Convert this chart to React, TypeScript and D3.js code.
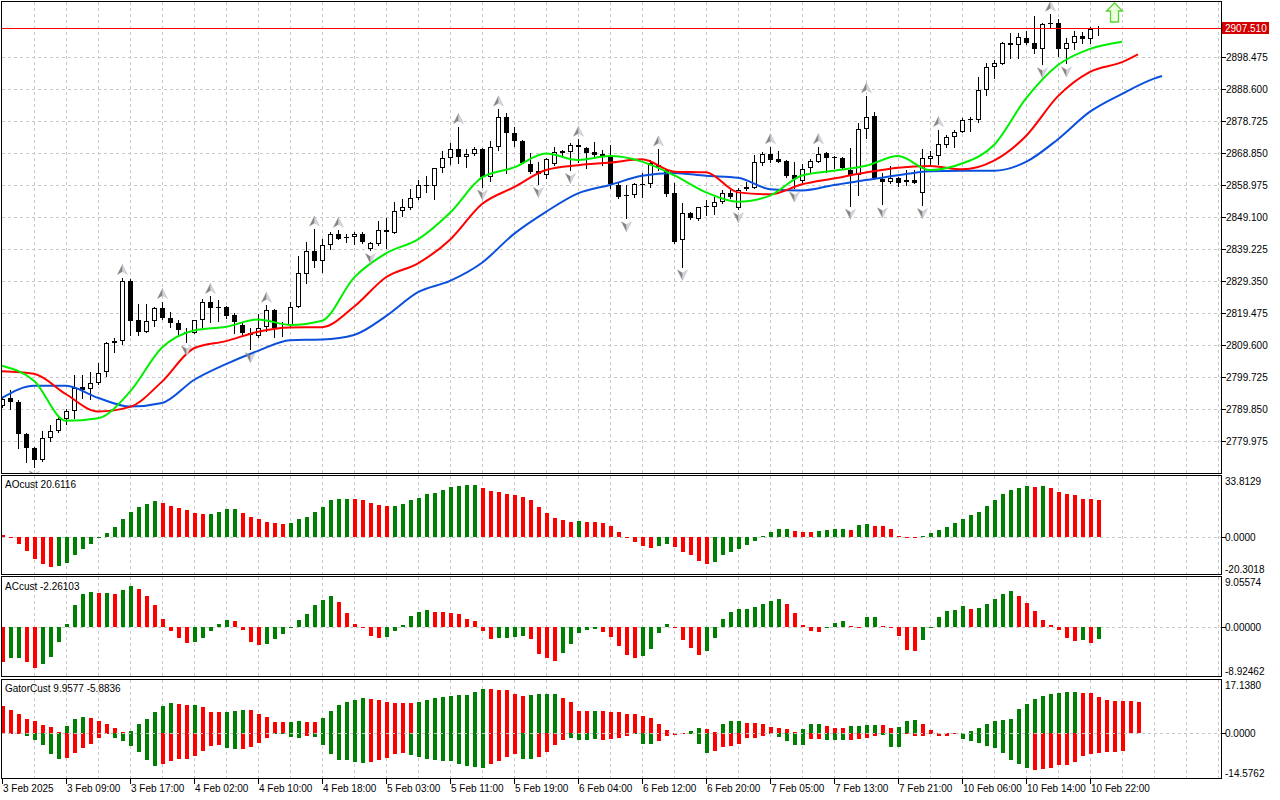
import React, { useEffect } from 'react';
import * as d3 from 'd3';

// ---------------- DATA ----------------
const opens = [2790.9,2793.1,2792.1,2782.1,2777.8,2774.1,2780.9,2783.0,2786.8,2789.2,
2796.5,2796.0,2797.8,2801.2,2810.1,2810.8,2829.4,2817.2,2813.7,2816.9,
2820.9,2818.0,2816.4,2813.5,2813.3,2817.2,2823.0,2821.2,2821.2,2818.8,
2815.8,2813.4,2812.5,2815.2,2820.4,2815.1,2815.8,2821.4,2831.5,2838.6,
2835.4,2840.4,2843.7,2842.9,2842.8,2844.0,2839.3,2840.9,2845.0,2844.3,
2850.8,2852.0,2854.9,2858.8,2858.8,2864.1,2867.2,2870.0,2867.5,2868.4,
2870.0,2861.3,2870.6,2879.9,2874.9,2872.7,2865.5,2863.3,2862.1,2865.5,
2869.5,2869.3,2871.3,2870.3,2869.3,2868.5,2867.7,2859.0,2855.9,2855.9,
2859.1,2859.2,2865.1,2863.6,2856.4,2842.0,2850.4,2848.5,2852.2,2852.3,
2853.6,2856.4,2851.8,2857.6,2858.2,2865.9,2868.4,2866.9,2866.4,2862.1,
2860.2,2864.1,2866.2,2868.7,2867.7,2867.2,2863.5,2862.1,2876.3,2880.3,
2860.8,2859.8,2861.0,2859.8,2860.5,2856.6,2867.1,2867.9,2871.3,2873.7,
2875.4,2879.2,2879.0,2888.3,2895.3,2896.2,2902.9,2902.2,2904.2,2902.7,
2900.8,2909.1,2908.9,2900.8,2902.9,2905.0,2903.9,2907.1];
const highs = [2793.7,2795.7,2792.5,2782.4,2778.2,2783.1,2784.9,2788.0,2789.8,2800.3,
2800.3,2801.2,2804.0,2810.4,2811.7,2830.4,2830.0,2822.1,2822.1,2821.4,
2823.0,2819.9,2817.3,2814.7,2817.4,2823.9,2824.6,2823.6,2821.7,2819.4,
2816.3,2814.7,2819.2,2821.9,2820.6,2816.6,2823.0,2837.1,2841.3,2845.4,
2842.4,2844.4,2845.0,2843.7,2844.6,2844.6,2841.5,2847.9,2848.9,2853.7,
2854.7,2857.8,2860.5,2861.6,2864.1,2869.5,2872.0,2877.0,2870.0,2870.6,
2870.3,2872.7,2882.4,2881.1,2876.8,2872.9,2868.7,2866.2,2867.2,2870.8,
2869.8,2871.8,2873.1,2870.8,2872.3,2869.8,2871.3,2859.5,2859.0,2859.5,
2862.6,2866.7,2870.1,2863.8,2859.5,2853.3,2850.7,2852.3,2854.3,2855.4,
2857.4,2857.4,2857.9,2860.0,2868.2,2869.3,2870.8,2869.5,2866.7,2866.0,
2865.4,2867.0,2870.8,2869.1,2868.0,2867.7,2870.5,2878.0,2886.5,2881.4,
2862.6,2864.9,2861.5,2863.6,2863.6,2870.1,2869.6,2876.1,2874.4,2875.9,
2879.5,2880.1,2892.2,2896.5,2897.5,2903.2,2906.0,2905.8,2906.6,2911.2,
2909.1,2911.7,2910.1,2904.2,2906.6,2906.3,2907.6,2908.0];
const lows = [2790.6,2790.0,2777.9,2773.4,2771.8,2773.9,2780.0,2782.6,2785.1,2787.0,
2793.1,2792.9,2797.5,2800.1,2807.3,2809.8,2812.7,2812.7,2813.5,2815.6,
2817.6,2815.3,2812.7,2810.4,2813.2,2815.3,2816.8,2817.0,2818.0,2813.2,
2812.7,2808.3,2812.2,2814.0,2812.2,2812.4,2815.2,2821.2,2828.8,2833.6,
2832.2,2839.1,2842.2,2841.5,2840.8,2841.2,2838.9,2840.5,2839.4,2844.2,
2849.5,2851.5,2854.8,2856.9,2854.6,2863.1,2865.5,2865.7,2864.4,2868.2,
2858.5,2860.3,2869.8,2862.8,2871.0,2865.7,2862.8,2859.3,2861.0,2865.1,
2867.7,2863.6,2866.2,2864.1,2867.7,2865.1,2857.9,2855.1,2848.7,2855.4,
2855.4,2858.5,2863.6,2855.6,2841.0,2833.8,2848.5,2848.2,2849.7,2849.9,
2853.3,2854.9,2851.5,2857.4,2857.9,2865.1,2866.0,2866.0,2861.5,2857.9,
2860.0,2863.1,2866.0,2863.1,2864.1,2864.1,2852.6,2855.9,2873.4,2860.8,
2853.0,2859.5,2858.7,2859.0,2859.5,2852.8,2865.1,2865.4,2870.8,2870.8,
2875.4,2875.7,2878.5,2886.7,2891.9,2896.2,2898.1,2898.1,2902.5,2899.6,
2896.2,2907.3,2898.8,2896.5,2900.8,2902.9,2902.7,2905.3];
const closes = [2792.9,2791.9,2782.0,2777.7,2774.1,2780.9,2783.0,2786.8,2789.1,2796.4,
2795.7,2797.8,2801.0,2810.1,2810.8,2829.4,2817.1,2813.7,2816.9,2820.9,
2818.0,2816.5,2814.2,2813.3,2817.2,2823.0,2820.9,2820.9,2818.6,2816.8,
2813.2,2812.6,2814.7,2820.4,2815.0,2815.2,2821.4,2831.7,2838.7,2835.6,
2840.4,2843.7,2842.4,2842.6,2844.0,2841.5,2841.0,2845.0,2844.4,2850.8,
2852.1,2855.0,2858.9,2859.0,2864.1,2867.2,2870.0,2867.5,2868.4,2870.0,
2861.3,2870.6,2879.9,2874.9,2872.7,2865.9,2863.0,2862.3,2866.9,2869.1,
2869.0,2871.3,2870.6,2869.0,2868.1,2868.0,2859.3,2855.4,2855.6,2859.2,
2859.3,2865.9,2864.4,2856.2,2841.5,2850.2,2848.7,2852.1,2852.5,2853.6,
2856.4,2855.4,2857.4,2858.3,2866.0,2868.5,2866.8,2866.2,2861.9,2860.8,
2863.9,2866.4,2868.6,2867.4,2867.4,2864.3,2862.1,2876.3,2880.1,2861.0,
2859.8,2861.0,2859.7,2860.5,2859.7,2867.2,2867.9,2871.6,2873.9,2875.4,
2879.0,2879.4,2888.3,2895.3,2896.5,2902.9,2902.2,2904.5,2902.7,2900.8,
2908.6,2908.6,2900.8,2902.9,2905.0,2903.9,2907.0,2907.51];

// Alligator lines, sampled every 4 bars (last point at line end)
const lipsIdx = [0,4,8,12,16,20,24,28,32,36,40,44,48,52,56,60,64,68,72,76,80,84,88,92,96,100,104,108,112,116,120,124,128,132,136,140];
const lipsVals = [2803.2,2798.6,2786.2,2787.0,2795.2,2808.8,2814.1,2815.2,2817.5,2815.8,2817.1,2830.4,2837.9,2842.2,2850.4,2861.3,2864.4,2868.7,2866.7,2867.9,2866.2,2862.0,2856.7,2853.8,2855.7,2861.9,2863.4,2864.9,2867.9,2863.6,2865.6,2871.3,2885.7,2896.0,2901.0,2903.2];
const teethIdx = [0,4,8,12,16,20,24,28,32,36,40,44,48,52,56,60,64,68,72,76,80,84,88,92,96,100,104,108,112,116,120,124,128,132,136,140,142];
const teethVals = [2801.5,2800.7,2794.4,2789.1,2790.5,2798.3,2808.6,2810.8,2813.7,2815.0,2815.1,2821.4,2830.5,2834.8,2842.1,2853.1,2858.3,2863.6,2865.1,2865.9,2866.9,2863.1,2862.9,2856.7,2856.1,2859.2,2861.0,2862.8,2864.3,2864.8,2863.8,2866.5,2874.1,2886.4,2893.9,2896.9,2899.3];
const jawIdx = [0,4,8,12,16,20,24,28,32,36,40,44,48,52,56,60,64,68,72,76,80,84,88,92,96,100,104,108,112,116,120,124,128,132,136,140,144,145];
const jawVals = [2793.3,2797.0,2797.0,2793.3,2790.6,2791.7,2798.8,2803.7,2807.8,2811.1,2811.3,2812.7,2818.5,2825.9,2829.4,2835.0,2843.9,2850.7,2856.4,2859.0,2861.8,2862.7,2861.8,2861.2,2857.7,2857.3,2859.0,2860.5,2862.0,2863.2,2863.4,2863.4,2866.1,2873.1,2881.6,2887.1,2891.8,2892.6];

const fractalUpIdx = [15,20,26,33,39,42,57,62,72,82,96,102,108,117,131];
const fractalDownIdx = [4,23,31,46,60,67,71,78,85,92,99,106,110,115,130,133];
const signalIdx = 139;
const signalPrice = 2912.2;
const currentPrice = 2907.51;

const priceTicks = ['2779.975','2789.850','2799.725','2809.600','2819.475','2829.350','2839.225','2849.100','2858.975','2868.850','2878.725','2888.600','2898.475'];

const timeIdx = [0,8,16,24,32,40,48,56,64,72,80,88,96,104,112,120,128,136];
const timeText = ['3 Feb 2025','3 Feb 09:00','3 Feb 17:00','4 Feb 02:00','4 Feb 10:00','4 Feb 18:00','5 Feb 03:00','5 Feb 11:00','5 Feb 19:00','6 Feb 04:00','6 Feb 12:00','6 Feb 20:00','7 Feb 05:00','7 Feb 13:00','7 Feb 21:00','10 Feb 06:00','10 Feb 14:00','10 Feb 22:00'];

const aoVals = [1.47,-0.29,-3.43,-7.25,-11.66,-14.41,-15.97,-15.88,-13.82,-9.80,
-6.17,-3.43,-0.29,2.55,5.78,9.80,14.01,16.76,18.42,19.70,
18.91,17.25,15.88,14.70,13.43,12.94,13.03,14.01,15.29,15.48,
13.43,11.27,9.80,8.53,8.04,7.45,8.04,9.80,11.27,14.01,
16.76,20.19,21.07,21.17,20.87,20.58,18.72,17.84,17.25,17.35,
18.42,20.58,21.46,23.81,24.40,26.07,27.34,28.22,28.71,28.81,
27.15,25.48,24.89,23.81,23.32,22.25,20.58,16.76,13.43,10.78,
9.31,8.53,9.11,8.53,8.43,7.64,6.37,3.14,-0.29,-2.74,
-4.90,-5.98,-4.90,-3.82,-5.49,-8.23,-9.80,-13.13,-14.70,-13.62,
-9.80,-8.23,-6.57,-4.41,-2.16,0.59,3.14,4.70,4.80,3.63,
3.14,3.04,3.63,4.21,4.70,4.80,4.21,6.96,7.45,6.37,
6.27,4.70,0.88,0.20,-0.20,0.88,2.55,4.21,5.78,8.04,
10.19,12.35,14.01,17.25,20.58,23.81,26.07,27.15,28.22,27.64,
27.83,27.15,24.89,23.62,23.32,21.07,20.97,20.61];
const aoColors = 'rrrrrrrggg'+'gggggggggg'+'rrrrrrgggg'+'rrrrrrgggg'+'ggggrrrrrg'+'gggggggggg'+'rrrrrrrrrr'+'rrgrrrrrrr'+'rrggrrrrrg'+'gggggggggr'+'rrggggrggr'+'rrrrrggggg'+'gggggggggr'+'grrrrrrr';

const acVals = [-6.37,-5.68,-5.68,-6.37,-7.35,-6.76,-5.49,-2.65,0.54,3.92,
5.98,6.27,6.08,6.13,5.98,6.66,7.35,6.86,5.59,3.92,
1.47,-0.78,-2.06,-2.84,-2.65,-1.96,-0.78,0.54,1.27,1.08,
-0.59,-2.65,-3.33,-3.04,-2.25,-1.37,-0.10,1.27,2.35,3.92,
4.90,5.59,4.51,2.55,0.54,-0.29,-1.57,-1.96,-1.91,-0.83,
0.29,1.96,2.70,3.04,2.70,2.65,2.55,2.35,1.47,1.08,
-0.78,-2.25,-2.06,-2.01,-1.76,-1.57,-2.25,-4.80,-5.68,-6.08,
-4.70,-3.14,-1.18,-0.49,-0.44,-0.98,-1.76,-3.53,-5.00,-5.68,
-5.29,-3.92,-1.18,0.54,-0.29,-2.45,-3.72,-5.00,-4.41,-1.96,
1.47,2.70,3.14,3.23,3.63,4.12,4.70,5.00,4.12,2.55,
0.39,-0.69,-0.88,0.05,0.69,1.08,0.20,-0.10,1.76,1.81,
0.20,-0.20,-1.62,-4.21,-4.41,-2.45,-0.29,1.76,2.84,3.04,
3.77,3.23,3.43,4.12,5.00,5.93,6.47,5.59,4.31,2.84,
1.18,0.39,-0.54,-2.06,-2.55,-2.45,-2.84,-2.26];
const acColors = 'rggrrggggg'+'ggrgrggrrr'+'rrrrgggggr'+'rrrggggggg'+'ggrrrrrrgg'+'ggggrrrrrr'+'rrggggrrrr'+'gggggrrrrr'+'ggggrrrrgg'+'ggggggggrr'+'rrrgggrrgg'+'rrrrrggggg'+'grgggggrrr'+'rrrrrgrg';

const gatorUp = [8.54,7.39,5.98,4.49,3.87,2.46,1.94,0.35,2.24,4.49,
5.10,4.84,3.87,2.90,1.58,0.35,0.62,2.90,4.49,6.78,
8.62,9.59,9.33,8.98,9.02,8.36,6.78,6.69,6.78,7.04,
7.39,7.35,6.07,5.02,3.52,3.48,3.52,3.87,3.52,3.48,
4.84,7.04,8.98,9.94,10.56,11.26,10.91,10.56,9.94,9.77,
9.59,9.55,9.94,10.47,11.26,11.53,11.88,12.06,12.10,13.20,
14.08,14.04,13.90,13.73,12.50,11.88,12.23,12.50,12.54,12.58,
11.35,9.94,7.04,7.00,7.08,7.00,6.78,6.73,6.07,6.03,
5.46,4.84,2.82,1.06,0.09,0.04,0.62,1.58,1.32,0.35,
2.82,3.87,3.92,3.17,3.12,2.90,1.94,1.58,1.32,0.35,
1.32,2.82,2.90,2.29,1.58,1.54,2.29,2.33,2.64,2.68,
2.64,1.58,1.94,3.87,4.31,2.90,1.06,0.04,0.035,0.03,
0.09,0.62,1.58,2.90,3.87,4.31,4.49,7.74,9.33,10.91,
11.88,12.50,12.85,13.20,13.24,12.85,12.80,11.53,10.56,10.30,
10.25,10.21,9.96];
const gatorUpColors = 'rrrrrrrrgg'+'grrrrrgggg'+'ggrrgrrrgg'+'grrrrrggrr'+'ggggggrrrr'+'rrgggggggg'+'grrrrrgggg'+'rrrrgrrrrr'+'rrrrrrggrr'+'gggrrrrrrr'+'gggrrrgggg'+'rrgggrrrrr'+'gggggggggg'+'gggggrrrrr'+'rrr';
const gatorDown = [-0.44,-0.26,-0.18,-0.97,-2.11,-3.78,-6.60,-8.27,-7.92,-6.34,
-4.66,-3.43,-1.50,-0.44,-1.50,-2.46,-4.05,-5.98,-8.54,-10.47,
-9.86,-8.89,-8.27,-8.23,-7.39,-5.63,-4.05,-3.78,-4.66,-5.02,
-4.97,-4.40,-3.08,-1.50,-0.18,-0.26,-1.32,-1.50,-0.88,-1.14,
-3.78,-6.60,-8.54,-8.58,-9.24,-9.50,-9.24,-8.54,-7.92,-6.60,
-6.56,-6.95,-7.57,-8.27,-8.54,-8.89,-8.93,-9.86,-10.47,-10.82,
-11.09,-9.86,-8.89,-7.74,-6.60,-8.27,-8.32,-7.57,-5.98,-3.87,
-2.11,-1.58,-2.11,-2.11,-1.85,-2.11,-1.94,-1.50,-0.88,-0.22,
-3.43,-3.43,-2.64,-0.88,-0.53,-0.18,-0.35,-3.43,-6.34,-5.63,
-4.40,-4.05,-3.43,-1.58,-1.50,-1.06,-0.44,-1.32,-2.64,-3.78,
-3.78,-1.85,-1.80,-2.11,-2.38,-2.38,-2.11,-1.94,-1.58,-1.06,
-0.53,-4.40,-4.40,-0.22,-0.88,-0.88,-0.44,-0.88,-0.88,-0.35,
-1.85,-2.64,-3.08,-4.05,-4.66,-6.34,-8.54,-9.86,-11.09,-11.79,
-11.44,-11.09,-10.30,-10.12,-9.24,-7.30,-6.60,-6.34,-6.07,-6.07,-5.88];
const gatorDownColors = 'rrrgggggrr'+'rrrrgggggg'+'rrrrrrrrgg'+'rrrrggggrg'+'ggggggrrrr'+'rggggggggg'+'grrrrggrrr'+'rggggrrrrg'+'ggrrrrgggr'+'rrrrrrgggg'+'grrgggrrrr'+'gggrrrrrrr'+'gggggggggr'+'rrrrrrrrrrr';

const aoLabels = ['33.8129','0.0000','-20.3018'];
const acLabels = ['9.05574','0.00000','-8.92462'];
const gatorLabels = ['17.1380','0.0000','-14.5762'];
const aoTitle = 'AOcust 20.6116';
const acTitle = 'ACcust -2.26103';
const gatorTitle = 'GatorCust 9.9577 -5.8836';

// ---------------- LAYOUT ----------------
const AXIS_X = 1221.5;
const LEFT_X = 1.5;
const GREEN = '#008000';
const RED = '#ff0000';
const GRID = '#c8c8c8';
const FONT = '"Liberation Sans", Arial, sans-serif';

const panes = {
  main: { top: 1.5, bottom: 473.5 },
  ao: { top: 475.5, bottom: 574.5 },
  ac: { top: 576.5, bottom: 676.5 },
  gator: { top: 679.5, bottom: 778.5 },
};

type Pane = { top: number; bottom: number };

export default function App() {
  useEffect(() => {
    document.body.style.margin = '0';
  }, []);

  const x = d3.scaleLinear().domain([0, 137]).range([2, 2 + 8 * 137]);
  const px = (i: number) => Math.round(x(i));
  const yMain = d3.scaleLinear().domain([+priceTicks[0], +priceTicks[priceTicks.length - 1]]).range([441, 57]);
  const yAO = d3.scaleLinear().domain([+aoLabels[2], +aoLabels[0]]).range([panes.ao.bottom, panes.ao.top]);
  const yAC = d3.scaleLinear().domain([+acLabels[2], +acLabels[0]]).range([panes.ac.bottom, panes.ac.top]);
  const yG = d3.scaleLinear().domain([+gatorLabels[2], +gatorLabels[0]]).range([panes.gator.bottom, panes.gator.top]);

  const gridIdx = d3.range(4, 153, 4);

  const mkLine = (idx: number[]) =>
    d3.line<number>().x((_, k) => x(idx[k])).y((d) => yMain(d)).curve(d3.curveMonotoneX);

  const bar = (key: string, i: number, v: number, ys: d3.ScaleLinear<number, number>, c: string) => {
    const cx = px(i);
    const y0 = Math.round(ys(0));
    const y1 = Math.round(ys(v));
    const h = Math.max(1, Math.abs(y1 - y0));
    return <rect key={key} x={cx - 1} y={Math.min(y0, y1)} width={4} height={h} fill={c === 'g' ? GREEN : RED} />;
  };

  const vGrid = (p: Pane, k: string) =>
    gridIdx.map((i) => (
      <line key={k + i} x1={px(i) + 0.5} x2={px(i) + 0.5} y1={p.top} y2={p.bottom} stroke={GRID} strokeDasharray="3,3" />
    ));

  const zeroGrid = (ys: d3.ScaleLinear<number, number>, k: string) => {
    const yz = Math.round(ys(0)) + 0.5;
    return <line key={k} x1={LEFT_X} x2={AXIS_X} y1={yz} y2={yz} stroke={GRID} strokeDasharray="3,3" />;
  };

  const paneAxis = (labels: string[], ys: d3.ScaleLinear<number, number>, p: Pane, k: string) => {
    const yz = Math.round(ys(0)) + 0.5;
    return (
      <g key={k}>
        <text x={1225} y={p.top + 9.5} fontSize={10}>{labels[0]}</text>
        <text x={1225} y={yz + 3.5} fontSize={10}>{labels[1]}</text>
        <text x={1225} y={p.bottom - 2} fontSize={10}>{labels[2]}</text>
        <line x1={AXIS_X} x2={AXIS_X + 4} y1={yz} y2={yz} stroke="#000" />
      </g>
    );
  };

  const yCur = Math.round(yMain(currentPrice)) + 0.5;

  return (
    <svg width={1280} height={800} style={{ display: 'block', background: '#fff', fontFamily: FONT }} shapeRendering="crispEdges">
      <defs>
        <clipPath id="clipMain"><rect x={LEFT_X} y={panes.main.top} width={AXIS_X - LEFT_X} height={panes.main.bottom - panes.main.top} /></clipPath>
        <clipPath id="clipAO"><rect x={LEFT_X} y={panes.ao.top} width={AXIS_X - LEFT_X} height={panes.ao.bottom - panes.ao.top} /></clipPath>
        <clipPath id="clipAC"><rect x={LEFT_X} y={panes.ac.top} width={AXIS_X - LEFT_X} height={panes.ac.bottom - panes.ac.top} /></clipPath>
        <clipPath id="clipG"><rect x={LEFT_X} y={panes.gator.top} width={AXIS_X - LEFT_X} height={panes.gator.bottom - panes.gator.top} /></clipPath>
      </defs>
      <rect x={0} y={0} width={1280} height={800} fill="#fff" />

      {/* ---------- MAIN PANE ---------- */}
      <g clipPath="url(#clipMain)">
        {vGrid(panes.main, 'mg')}
        {priceTicks.map((t) => {
          const yy = Math.round(yMain(+t)) + 0.5;
          return <line key={'hg' + t} x1={LEFT_X} x2={AXIS_X} y1={yy} y2={yy} stroke={GRID} strokeDasharray="3,3" />;
        })}
        {opens.map((o, i) => {
          const cx = px(i);
          const c = closes[i];
          const up = c >= o;
          const yTop = Math.round(yMain(Math.max(o, c)));
          const yBot = Math.round(yMain(Math.min(o, c)));
          return (
            <g key={'c' + i}>
              <line x1={cx + 0.5} x2={cx + 0.5} y1={Math.round(yMain(highs[i]))} y2={Math.round(yMain(lows[i])) + 1} stroke="#000" />
              {yBot - yTop <= 1 ? (
                <line x1={cx - 2} x2={cx + 3} y1={yTop + 0.5} y2={yTop + 0.5} stroke="#000" />
              ) : (
                <rect x={cx - 1.5} y={yTop + 0.5} width={4} height={yBot - yTop - 1} fill={up ? '#fff' : '#000'} stroke="#000" />
              )}
            </g>
          );
        })}
        <g shapeRendering="auto" fill="none" strokeWidth={2} strokeLinejoin="round">
          <path d={mkLine(jawIdx)(jawVals) || ''} stroke="#0a50dc" />
          <path d={mkLine(teethIdx)(teethVals) || ''} stroke="#ff0000" />
          <path d={mkLine(lipsIdx)(lipsVals) || ''} stroke="#00ee00" />
        </g>
        <g shapeRendering="auto">
          {fractalUpIdx.map((i) => {
            const cx = px(i) + 0.5;
            const cy = yMain(highs[i]) - 8;
            return (
              <g key={'fu' + i} transform={`translate(${cx},${cy})`}>
                <path d="M0,-5 L0,2 L-5,5 Z" fill="#8a827c" stroke="#8a827c" strokeWidth={0.4} />
                <path d="M0,-5 L5,5 L0,2 Z" fill="#d4d4e0" stroke="#b4b4c8" strokeWidth={0.4} />
              </g>
            );
          })}
          {fractalDownIdx.map((i) => {
            const cx = px(i) + 0.5;
            const cy = yMain(lows[i]) + 8.5;
            return (
              <g key={'fd' + i} transform={`translate(${cx},${cy})`}>
                <path d="M0,5 L0,-2 L-5,-5 Z" fill="#8a827c" stroke="#8a827c" strokeWidth={0.4} />
                <path d="M0,5 L5,-5 L0,-2 Z" fill="#d4d4e0" stroke="#b4b4c8" strokeWidth={0.4} />
              </g>
            );
          })}
          <path
            transform={`translate(${px(signalIdx) + 0.5},${yMain(signalPrice)})`}
            d="M0,-9.5 L8,-1.5 L4,-1.5 L4,9.5 L-4,9.5 L-4,-1.5 L-8,-1.5 Z"
            fill="#eaffdc"
            stroke="#5cd23a"
            strokeWidth={1.3}
          />
        </g>
        <line x1={LEFT_X} x2={AXIS_X} y1={yCur} y2={yCur} stroke="#ff0000" />
      </g>
      <rect x={LEFT_X} y={panes.main.top} width={AXIS_X - LEFT_X} height={panes.main.bottom - panes.main.top} fill="none" stroke="#000" />
      {priceTicks.map((t) => {
        const yy = Math.round(yMain(+t)) + 0.5;
        return (
          <g key={'pt' + t}>
            <line x1={AXIS_X} x2={AXIS_X + 4} y1={yy} y2={yy} stroke="#000" />
            <text x={1226} y={yy + 3.5} fontSize={10}>{t}</text>
          </g>
        );
      })}
      <rect x={1222} y={yCur - 6.5} width={47} height={12} fill="#d40000" />
      <text x={1225} y={yCur + 3.5} fontSize={10} fill="#fff">{currentPrice.toFixed(3)}</text>

      {/* ---------- AO PANE ---------- */}
      <g clipPath="url(#clipAO)">
        {vGrid(panes.ao, 'aog')}
        {zeroGrid(yAO, 'aoz')}
        {aoVals.map((v, i) => bar('ao' + i, i, v, yAO, aoColors[i]))}
      </g>
      <rect x={LEFT_X} y={panes.ao.top} width={AXIS_X - LEFT_X} height={panes.ao.bottom - panes.ao.top} fill="none" stroke="#000" />
      <text x={5} y={panes.ao.top + 12.5} fontSize={10}>{aoTitle}</text>
      {paneAxis(aoLabels, yAO, panes.ao, 'aoax')}

      {/* ---------- AC PANE ---------- */}
      <g clipPath="url(#clipAC)">
        {vGrid(panes.ac, 'acg')}
        {zeroGrid(yAC, 'acz')}
        {acVals.map((v, i) => bar('ac' + i, i, v, yAC, acColors[i]))}
      </g>
      <rect x={LEFT_X} y={panes.ac.top} width={AXIS_X - LEFT_X} height={panes.ac.bottom - panes.ac.top} fill="none" stroke="#000" />
      <text x={5} y={panes.ac.top + 13.5} fontSize={10}>{acTitle}</text>
      {paneAxis(acLabels, yAC, panes.ac, 'acax')}

      {/* ---------- GATOR PANE ---------- */}
      <g clipPath="url(#clipG)">
        {vGrid(panes.gator, 'gg')}
        {gatorUp.map((v, i) => bar('gu' + i, i, v, yG, gatorUpColors[i]))}
        {gatorDown.map((v, i) => bar('gd' + i, i, v, yG, gatorDownColors[i]))}
        {zeroGrid(yG, 'gz')}
      </g>
      <rect x={LEFT_X} y={panes.gator.top} width={AXIS_X - LEFT_X} height={panes.gator.bottom - panes.gator.top} fill="none" stroke="#000" />
      <text x={5} y={panes.gator.top + 12.5} fontSize={10}>{gatorTitle}</text>
      {paneAxis(gatorLabels, yG, panes.gator, 'gax')}

      {/* ---------- TIME AXIS ---------- */}
      {timeIdx.map((i, k) => (
        <g key={'t' + i}>
          <line x1={px(i) + 0.5} x2={px(i) + 0.5} y1={779} y2={784} stroke="#000" />
          <text x={px(i) + 1} y={792} fontSize={10}>{timeText[k]}</text>
        </g>
      ))}
    </svg>
  );
}
